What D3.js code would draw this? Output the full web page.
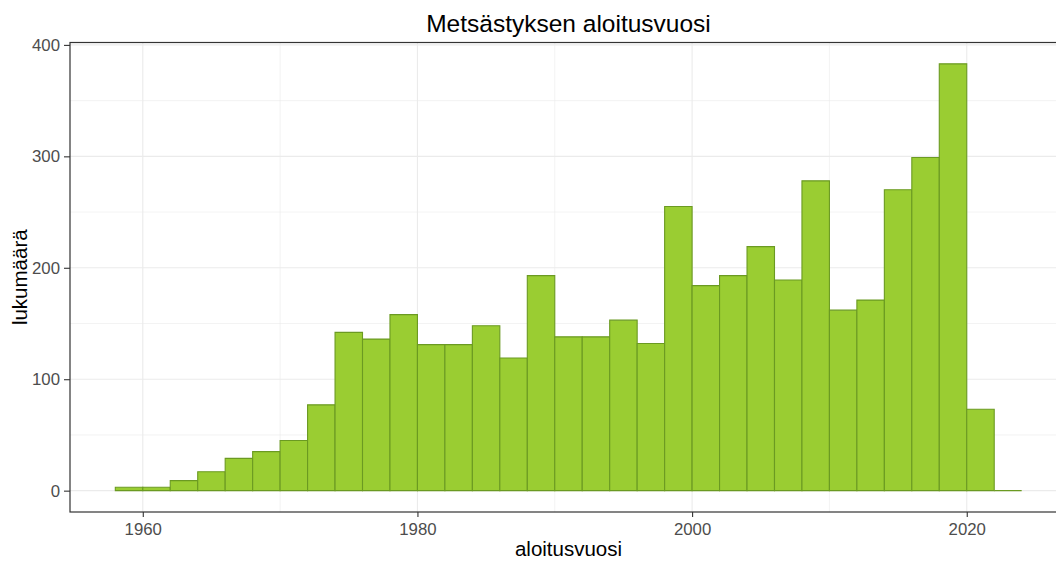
<!DOCTYPE html>
<html>
<head>
<meta charset="utf-8">
<script src="https://cdn.jsdelivr.net/npm/d3@7"></script>
<style>
  html, body { margin: 0; padding: 0; background: #fff; }
  svg { display: block; }
</style>
</head>
<body>
<svg id="chart" width="1056" height="563"></svg>
<script>
// ---- data ----
const binStarts = [1958, 1960, 1962, 1964, 1966, 1968, 1970, 1972, 1974, 1976, 1978,
                   1980, 1982, 1984, 1986, 1988, 1990, 1992, 1994, 1996, 1998, 2000,
                   2002, 2004, 2006, 2008, 2010, 2012, 2014, 2016, 2018, 2020, 2022];
const counts = [3, 3, 9, 17, 29, 35, 45, 77, 142, 136, 158,
                131, 131, 148, 119, 193, 138, 138, 153, 132, 255, 184,
                193, 219, 189, 278, 162, 171, 270, 299, 383, 73, 0];
const binWidth = 2;
const xTicks = [1960, 1980, 2000, 2020];
const xMinor = [1970, 1990, 2010];
const yTicks = [0, 100, 200, 300, 400];
const yMinor = [50, 150, 250, 350];
const title = "Metsästyksen aloitusvuosi";
const xTitle = "aloitusvuosi";
const yTitle = "lukumäärä";

// ---- layout ----
const panel = { left: 70, right: 1067, top: 42.5, bottom: 512 };
const font = "'Liberation Sans', Arial, sans-serif";

const svg = d3.select("#chart");

const xMin = binStarts[0], xMax = binStarts[binStarts.length - 1] + binWidth;
const xPad = (xMax - xMin) * 0.05;
const x = d3.scaleLinear().domain([xMin - xPad, xMax + xPad]).range([panel.left, panel.right]);

const yMax = d3.max(counts);
const yPad = yMax * 0.05;
const y = d3.scaleLinear().domain([-yPad, yMax + yPad]).range([panel.bottom, panel.top]);

// grid
const g = svg.append("g");
g.selectAll("line.ymin").data(yMinor).join("line")
  .attr("x1", panel.left).attr("x2", panel.right)
  .attr("y1", d => y(d)).attr("y2", d => y(d))
  .attr("stroke", "#EBEBEB").attr("stroke-width", 0.6);
g.selectAll("line.xmin").data(xMinor).join("line")
  .attr("y1", panel.top).attr("y2", panel.bottom)
  .attr("x1", d => x(d)).attr("x2", d => x(d))
  .attr("stroke", "#EBEBEB").attr("stroke-width", 0.6);
g.selectAll("line.ymaj").data(yTicks).join("line")
  .attr("x1", panel.left).attr("x2", panel.right)
  .attr("y1", d => y(d)).attr("y2", d => y(d))
  .attr("stroke", "#EBEBEB").attr("stroke-width", 1.1);
g.selectAll("line.xmaj").data(xTicks).join("line")
  .attr("y1", panel.top).attr("y2", panel.bottom)
  .attr("x1", d => x(d)).attr("x2", d => x(d))
  .attr("stroke", "#EBEBEB").attr("stroke-width", 1.1);

// bars (as paths so zero-height bins still show their outline)
const bars = binStarts.map((s, i) => ({ s, c: counts[i] }));
svg.append("g").selectAll("path").data(bars).join("path")
  .attr("d", d => {
    const x0 = x(d.s), x1 = x(d.s + binWidth), y0 = y(0), y1 = y(d.c);
    return `M${x0},${y0}V${y1}H${x1}V${y0}Z`;
  })
  .attr("fill", "#9ACD32")
  .attr("stroke", "#6B9A22")
  .attr("stroke-width", 1.1);

// panel border
svg.append("rect")
  .attr("x", panel.left).attr("y", panel.top)
  .attr("width", panel.right - panel.left).attr("height", panel.bottom - panel.top)
  .attr("fill", "none").attr("stroke", "#333333").attr("stroke-width", 1.2);

// axes
const xAxis = d3.axisBottom(x).tickValues(xTicks).tickFormat(d3.format("d"))
  .tickSize(5).tickPadding(6);
const xg = svg.append("g").attr("transform", `translate(0,${panel.bottom})`).call(xAxis);
xg.select(".domain").remove();
xg.selectAll(".tick line").attr("stroke", "#333333").attr("stroke-width", 1.1);
xg.selectAll(".tick text").attr("fill", "#4D4D4D").style("font-family", font).style("font-size", "16.8px");

const yAxis = d3.axisLeft(y).tickValues(yTicks).tickFormat(d3.format("d"))
  .tickSize(6).tickPadding(4);
const yg = svg.append("g").attr("transform", `translate(${panel.left},0)`).call(yAxis);
yg.select(".domain").remove();
yg.selectAll(".tick line").attr("stroke", "#333333").attr("stroke-width", 1.1);
yg.selectAll(".tick text").attr("fill", "#4D4D4D").style("font-family", font).style("font-size", "16.8px");

// titles
svg.append("text").text(title)
  .attr("x", (panel.left + panel.right) / 2).attr("y", 31.5)
  .attr("text-anchor", "middle").attr("fill", "#000")
  .style("font-family", font).style("font-size", "24.5px");
svg.append("text").text(xTitle)
  .attr("x", (panel.left + panel.right) / 2).attr("y", 556)
  .attr("text-anchor", "middle").attr("fill", "#000")
  .style("font-family", font).style("font-size", "20.5px");
svg.append("text").text(yTitle)
  .attr("transform", `translate(27,${(panel.top + panel.bottom) / 2}) rotate(-90)`)
  .attr("text-anchor", "middle").attr("fill", "#000")
  .style("font-family", font).style("font-size", "20.5px");
</script>
</body>
</html>
